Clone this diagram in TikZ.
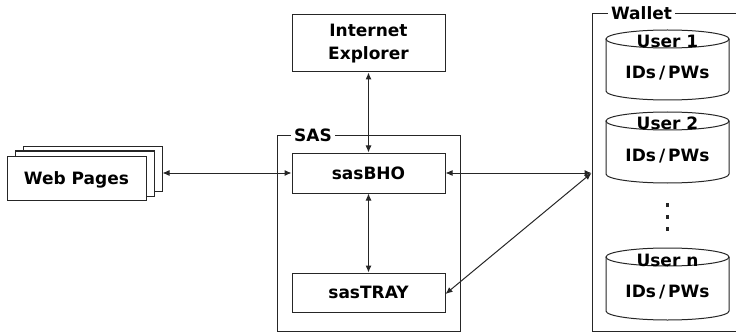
\documentclass[tikz,border=0pt]{standalone}
\usepackage{fontspec}
\setmainfont{DejaVu Sans}
\usetikzlibrary{arrows.meta}
\definecolor{linec}{HTML}{262626}
\newcommand\walletcyl[4]{% name, top, bottom, label
  \path[draw=linec, line width=1pt, fill=white]
    (667.5-61.5,#2+9) -- (667.5-61.5,#3-9)
    arc[start angle=180, end angle=360, x radius=61.5pt, y radius=9pt]
    -- (667.5+61.5,#2+9);
  \draw[linec, line width=1pt] (667.5,#2+9) ellipse [x radius=61.5pt, y radius=9pt];
  \node[lbl, anchor=base] (#1a) at (667.5,#2+18) {#4};
  \node[lbl, anchor=base] (#1b) at (667.5,#2+49) {IDs\kern3pt/\kern3pt PWs};
}
\begin{document}
\begin{tikzpicture}[x=1pt,y=-1pt,
  lbl/.style={font=\fontsize{17}{23}\selectfont\bfseries, inner sep=0pt, text=black},
  box/.style={lbl, draw=linec, line width=1pt, fill=white, minimum width=153pt,
    text height=12.4pt, text depth=0pt},
  page/.style={box, minimum width=139pt, minimum height=45pt},
  frame/.style={draw=linec, line width=1pt},
  arr/.style={line width=1pt, draw=linec, {Latex[length=7pt,width=6pt]}-{Latex[length=7pt,width=6pt]}},
  ttl/.style={lbl, fill=white, inner xsep=3pt, inner ysep=1pt, text height=12.4pt, text depth=0pt}]
\useasboundingbox (0,0) rectangle (736,334);
% SAS container
\node[frame, minimum width=183pt, minimum height=195pt, inner sep=0pt] (sas) at (368.5,233.5) {};
\node[ttl] (sastitle) at (313,135.5) {SAS};
% Wallet container
\draw[frame] (736,14) -- (592,14) -- (592,331) -- (736,331);
\node[ttl] (wallettitle) at (641.5,13.5) {Wallet};
% boxes
\node[lbl, draw=linec, line width=1pt, fill=white, minimum width=153pt, minimum height=57pt, align=center] (ie) at (368.5,43.5) {Internet\\Explorer};
\node[box, minimum height=40pt] (bho) at (368.5,173) {sasBHO};
\node[box, minimum height=39pt] (tray) at (368.5,292.5) {sasTRAY};
% web pages stack
\node[page] (web3) at (92.5,169) {};
\node[page] (web2) at (85,173.5) {};
\node[page, minimum height=44pt] (web1) at (76.5,178) {Web Pages};
% wallet cylinders
\walletcyl{u1}{30}{100}{User 1}
\walletcyl{u2}{112}{183}{User 2}
\walletcyl{un}{248}{320}{User n}
\foreach \yy in {205,217,229}
  \fill[linec] (665.5,\yy-1.75) rectangle (669,\yy+1.75);
% connectors
\coordinate (wp) at (591.5,173);
\draw[arr] (bho.west -| web3.east) -- (bho.west);
\draw[arr] (ie.south) -- (bho.north);
\draw[arr] (bho.south) -- (tray.north);
\draw[arr] (bho.east) -- (wp);
\draw[arr] (wp) -- ([yshift=-1.5pt]tray.east);
\end{tikzpicture}
\end{document}
